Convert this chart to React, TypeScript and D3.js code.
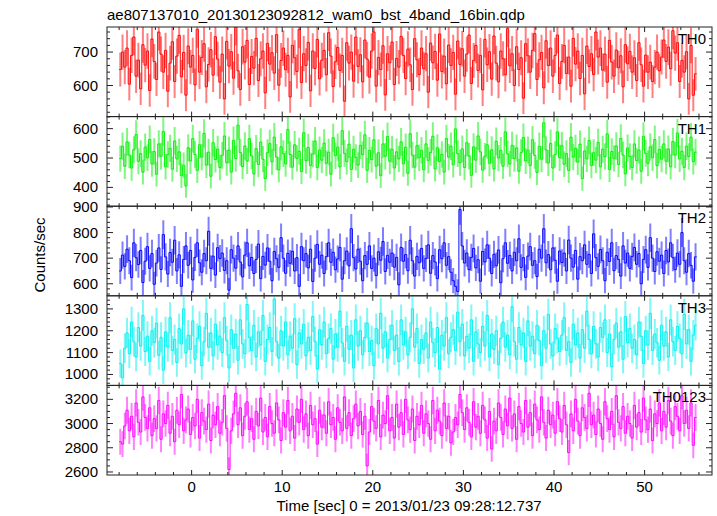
import React from "react";
import * as d3 from "d3";

const TITLE = "ae807137010_20130123092812_wam0_bst_4band_16bin.qdp";
const X_LABEL = "Time [sec] 0 = 2013/01/23 09:28:12.737";
const Y_LABEL = "Counts/sec";
const T_START = -8;
const BIN = 0.25;
const X_TICKS = [0, 10, 20, 30, 40, 50];

const TH0 = [
  648, 700, 655, 712, 604, 690, 745, 628, 676, 590, 722, 661, 703, 585, 739,
  672, 618, 760, 694, 640, 705, 583, 667, 731, 612, 688, 750, 626, 699, 571,
  718, 655, 690, 602, 768, 640, 684, 725, 596, 663, 707, 631, 746, 679, 610,
  694, 560, 732, 658, 701, 622, 775, 644, 588, 716, 670, 735, 603, 687, 652,
  741, 615, 680, 703, 578, 726, 664, 698, 637, 752, 601, 675, 712, 647, 690,
  566, 720, 683, 642, 767, 609, 695, 660, 729, 584, 703, 651, 738, 620, 676,
  705, 632, 758, 688, 597, 671, 714, 645, 690, 553, 728, 667, 700, 613, 745,
  657, 692, 611, 736, 679, 625, 703, 760, 598, 684, 648, 719, 572, 695, 668,
  730, 603, 681, 655, 747, 690, 621, 709, 662, 588, 740, 677, 633, 712, 650,
  695, 580, 727, 668, 702, 616, 754, 642, 688, 605, 721, 660, 699, 574, 733,
  663, 710, 628, 694, 751, 606, 675, 720, 645, 690, 587, 738, 662, 701, 619,
  748, 667, 611, 703, 680, 632, 770, 659, 695, 600, 716, 648, 683, 562, 725,
  689, 640, 705, 755, 618, 677, 699, 593, 734, 660, 712, 628, 690, 751, 606,
  672, 720, 636, 685, 598, 741, 664, 703, 621, 690, 575, 718, 657, 695, 633,
  760, 685, 712, 646, 694, 610, 735, 670, 628, 706, 653, 689, 596, 722, 665,
  702, 640, 683, 615, 728, 662, 598, 691, 640, 670, 612, 655, 700, 644, 685,
  736, 672, 715, 650, 764, 697, 728, 612, 675, 640, 701, 560, 720, 571, 635,
];

const TH1 = [
  498, 540, 472, 555, 510, 466, 528, 580, 489, 515, 452, 537, 501, 563, 480,
  522, 445, 548, 506, 590, 470, 512, 533, 462, 558, 497, 521, 440, 475, 405,
  535, 490, 566, 512, 458, 545, 503, 584, 476, 520, 438, 552, 495, 530, 468,
  509, 575, 484, 527, 452, 560, 498, 612, 519, 471, 541, 490, 566, 507, 446,
  532, 478, 554, 496, 430, 518, 549, 487, 571, 503, 460, 538, 515, 480, 597,
  512, 469, 545, 499, 523, 454, 586, 491, 536, 475, 514, 558, 468, 527, 493,
  551, 482, 520, 445, 569, 508, 537, 470, 593, 516, 488, 547, 461, 530, 502,
  476, 543, 511, 579, 458, 526, 495, 562, 472, 518, 440, 548, 506, 573, 489,
  530, 466, 521, 497, 555, 480, 537, 448, 583, 510, 469, 542, 501, 526, 460,
  548, 492, 519, 574, 463, 535, 488, 512, 452, 566, 503, 540, 477, 599, 515,
  484, 531, 468, 552, 507, 441, 538, 493, 575, 521, 459, 506, 545, 482, 528,
  463, 557, 500, 526, 472, 589, 514, 480, 543, 498, 534, 455, 518, 570, 490,
  527, 474, 562, 509, 451, 540, 496, 620, 528, 483, 550, 466, 512, 589, 501,
  542, 479, 515, 458, 571, 503, 533, 486, 547, 430, 524, 497, 560, 475, 518,
  493, 553, 470, 530, 505, 582, 461, 522, 499, 541, 478, 567, 510, 446, 534,
  505, 468, 548, 491, 527, 455, 574, 516, 482, 538, 501, 563, 474, 529, 496,
  548, 489, 531, 470, 556, 510, 585, 497, 523, 468, 540, 505, 571, 488, 520,
];

const TH2 = [
  650, 712, 668, 735, 690, 624, 760, 702, 675, 730, 605, 688, 745, 660, 718,
  598, 681, 740, 656, 792, 705, 638, 722, 684, 770, 650, 713, 590, 695, 748,
  672, 730, 615, 703, 760, 682, 645, 718, 690, 805, 660, 708, 634, 741, 699,
  720, 652, 690, 575, 733, 700, 661, 748, 685, 627, 712, 760, 670, 703, 640,
  695, 755, 620, 707, 673, 740, 688, 612, 726, 698, 664, 780, 700, 641, 719,
  680, 727, 650, 702, 590, 745, 690, 718, 662, 735, 609, 700, 754, 676, 712,
  640, 706, 760, 684, 723, 655, 697, 742, 618, 690, 728, 670, 815, 702, 658,
  735, 688, 612, 710, 676, 748, 660, 700, 632, 725, 692, 765, 648, 711, 684,
  720, 665, 703, 596, 742, 688, 714, 651, 770, 690, 630, 707, 682, 738, 660,
  699, 752, 641, 710, 685, 620, 733, 698, 760, 672, 706, 645, 612, 590, 570,
  890, 748, 681, 720, 655, 703, 738, 662, 694, 610, 726, 685, 752, 700, 640,
  715, 670, 732, 604, 698, 760, 680, 711, 650, 723, 690, 776, 664, 702, 625,
  708, 745, 672, 690, 628, 735, 700, 815, 682, 714, 655, 740, 692, 610, 728,
  683, 720, 650, 771, 700, 665, 730, 618, 706, 690, 752, 676, 715, 640, 795,
  702, 668, 734, 690, 612, 723, 687, 760, 651, 710, 695, 630, 748, 681, 720,
  660, 707, 742, 676, 718, 600, 695, 733, 664, 780, 700, 648, 725, 688, 712,
  640, 730, 685, 760, 702, 655, 720, 676, 800, 690, 645, 718, 672, 610, 705,
];

const TH3 = [
  1050, 985, 1120, 1190, 1095, 1240, 1150, 1080, 1215, 1130, 1270, 1105, 1175, 1060, 1200,
  1145, 1235, 1088, 1170, 1020, 1195, 1125, 1260, 1110, 1160, 1055, 1210, 1140, 1300, 1098,
  1180, 1115, 1245, 1070, 1165, 1220, 1040, 1150, 1280, 1125, 1190, 1085, 1230, 1135, 1175,
  1100, 1260, 1155, 1030, 1205, 1120, 1185, 1065, 1250, 1140, 1095, 1320, 1170, 1110, 1225,
  1080, 1195, 1135, 1270, 1060, 1160, 1215, 1105, 1345, 1150, 1075, 1200, 1130, 1240, 1090,
  1175, 1120, 1255, 1045, 1190, 1140, 1230, 1085, 1170, 1110, 1265, 1150, 1025, 1205, 1135,
  1240, 1095, 1165, 1210, 1070, 1185, 1125, 1290, 1145, 1060, 1220, 1115, 1180, 1030, 1250,
  1130, 1200, 1090, 1170, 1235, 1105, 1155, 1040, 1210, 1140, 1280, 1120, 1195, 1075, 1160,
  1225, 1110, 1180, 1060, 1250, 1135, 1195, 1090, 1170, 1300, 1125, 1210, 1050, 1160, 1115,
  1190, 1075, 1240, 1145, 1100, 1215, 1025, 1180, 1130, 1260, 1095, 1170, 1205, 1110, 1285,
  1150, 1230, 1085, 1175, 1120, 1250, 1060, 1195, 1140, 1100, 1220, 1130, 1270, 1080, 1185,
  1115, 1200, 1045, 1165, 1240, 1125, 1180, 1090, 1310, 1150, 1070, 1215, 1135, 1190, 1060,
  1245, 1130, 1175, 1095, 1225, 1155, 1040, 1200, 1120, 1275, 1140, 1085, 1210, 1165, 1105,
  1180, 1260, 1110, 1150, 1055, 1230, 1135, 1190, 1075, 1205, 1120, 1290, 1160, 1095, 1220,
  1140, 1080, 1215, 1170, 1250, 1100, 1185, 1035, 1160, 1235, 1125, 1195, 1070, 1265, 1145,
  1210, 1120, 1160, 1090, 1240, 1175, 1050, 1200, 1135, 1280, 1110, 1185, 1145, 1065, 1225,
  1130, 1195, 1080, 1250, 1150, 1110, 1220, 1165, 1095, 1275, 1140, 1205, 1060, 1180, 1225,
];

const TH0123 = [
  2850, 2830, 2980, 3110, 2940, 3060, 2890, 3170, 3010, 2930, 3220, 3050, 2960, 3130, 2900,
  3040, 2960, 3190, 2870, 3080, 3000, 3150, 2920, 3060, 2850, 3110, 2990, 3240, 2940, 3030,
  3120, 2910, 3050, 2980, 3200, 2880, 3090, 3020, 2950, 3160, 2860, 3070, 2990, 3140, 2920,
  3010, 3230, 2960, 2620, 2940, 3080, 3250, 2990, 3130, 2900, 3060, 3180, 2950, 3040, 2870,
  3100, 2980, 3210, 2930, 3050, 2890, 3140, 3000, 2920, 3170, 3030, 2860, 3090, 2970, 3190,
  2940, 3060, 2880, 3120, 3010, 3200, 2950, 3080, 2900, 3150, 2990, 3040, 2830, 3110, 2970,
  3070, 2920, 3180, 2990, 3050, 2870, 3130, 3010, 2940, 3220, 2960, 3090, 2900, 3040, 3160,
  2980, 3100, 2910, 3060, 2650, 2930, 3140, 3020, 2960, 3190, 2890, 3070, 3000, 3230, 2940,
  3050, 2880, 3160, 2970, 3090, 2910, 3200, 3030, 2950, 3120, 2860, 3060, 2990, 3150, 2920,
  3080, 3000, 2870, 3190, 2940, 3110, 3020, 2900, 3170, 2960, 3060, 2840, 2930, 3050, 2990,
  3240, 3090, 2950, 3130, 3010, 2890, 3180, 2970, 3060, 2920, 3150, 3030, 2880, 3100, 2790,
  3020, 2940, 3170, 3050, 2910, 3120, 2980, 3210, 2960, 3080, 2870, 3140, 3000, 2930, 3190,
  2970, 3090, 2900, 3160, 3030, 2950, 3220, 3010, 2880, 3110, 2990, 3070, 2920, 3180, 3040,
  2930, 3150, 2990, 2760, 3080, 2940, 3200, 3020, 2900, 3130, 3050, 2960, 3250, 2990, 3070,
  2910, 3120, 3000, 2870, 3180, 3040, 2950, 3100, 2890, 3230, 3010, 2960, 3140, 2920, 3060,
  3000, 2880, 3150, 2970, 3090, 2930, 3210, 3030, 2950, 3120, 2860, 3080, 3000, 3170, 2940,
  3100, 2970, 3190, 3020, 2900, 3140, 3060, 2940, 3230, 3000, 3110, 2960, 3170, 2820, 3050,
];

const PANEL_NAMES = ["TH0", "TH1", "TH2", "TH3", "TH0123"];
const PANEL_SERIES = [TH0, TH1, TH2, TH3, TH0123];
const PANEL_COLORS = ["#ff0000", "#00f000", "#0000ff", "#00f0f0", "#ff00ff"];
const PANEL_DOMAINS: [number, number][] = [
  [507, 775],
  [336, 641],
  [553, 903],
  [950, 1360],
  [2575, 3315],
];
const PANEL_MAJOR = [[600, 700], [400, 500, 600], [600, 700, 800, 900], [1000, 1100, 1200, 1300], [2600, 2800, 3000, 3200]];
const PANEL_MINOR_STEP = [20, 20, 20, 20, 50];

const W = 717;
const H = 516;
const LEFT = 107;
const RIGHT = 712;
const TOP = 27;
const BOTTOM = 475;
const FONT = "'Liberation Sans', Arial, Helvetica, sans-serif";

export default function App() {
  const x = d3.scaleLinear().domain([-9.34, 57.44]).range([LEFT, RIGHT]);
  const panelH = (BOTTOM - TOP) / 5;
  const xMinor = d3.range(-8, 57, 2);

  return (
    <svg width={W} height={H} style={{ position: "absolute", left: 0, top: 0, background: "#fff" }} fontFamily={FONT}>
      <defs>
        {PANEL_NAMES.map((n, i) => (
          <clipPath id={`clip${i}`} key={n}>
            <rect x={LEFT} y={TOP + i * panelH} width={RIGHT - LEFT} height={panelH} />
          </clipPath>
        ))}
      </defs>
      <text x={LEFT} y={20} fontSize={15} fill="#000">{TITLE}</text>
      {PANEL_NAMES.map((name, i) => {
        const y0 = TOP + i * panelH;
        const y1 = y0 + panelH;
        const y = d3.scaleLinear().domain(PANEL_DOMAINS[i]).range([y1, y0]);
        const data = PANEL_SERIES[i];
        const color = PANEL_COLORS[i];
        const pts: [number, number][] = data.map((v, k) => [T_START + k * BIN, v]);
        pts.push([T_START + data.length * BIN, data[data.length - 1]]);
        const line = d3
          .line<[number, number]>()
          .x((d) => x(d[0]))
          .y((d) => y(d[1]))
          .curve(d3.curveStepAfter);
        const [dmin, dmax] = PANEL_DOMAINS[i];
        const step = PANEL_MINOR_STEP[i];
        const yMinor = d3.range(Math.ceil(dmin / step) * step, dmax, step);
        return (
          <g key={name}>
            <g clipPath={`url(#clip${i})`}>
              {data.map((v, k) => {
                const t = T_START + (k + 0.5) * BIN;
                const e = Math.sqrt(v / BIN);
                return (
                  <line
                    key={k}
                    x1={x(t)}
                    x2={x(t)}
                    y1={y(v - e)}
                    y2={y(v + e)}
                    stroke={color}
                    strokeOpacity={0.5}
                    strokeWidth={2}
                  />
                );
              })}
              <path d={line(pts) || ""} fill="none" stroke={color} strokeOpacity={0.95} strokeWidth={1} />
            </g>
            {yMinor.map((v) => {
              const major = PANEL_MAJOR[i].includes(v);
              const len = major ? 6 : 3;
              return (
                <g key={v} stroke="#222" strokeWidth={1}>
                  <line x1={LEFT} x2={LEFT + len} y1={y(v)} y2={y(v)} />
                  <line x1={RIGHT} x2={RIGHT - len} y1={y(v)} y2={y(v)} />
                </g>
              );
            })}
            {PANEL_MAJOR[i].map((v) => (
              <text key={v} x={98} y={y(v) + 5} fontSize={15} textAnchor="end" fill="#000">
                {v}
              </text>
            ))}
            {xMinor.map((t) => {
              const major = t % 10 === 0;
              const len = major ? 5 : 3;
              return (
                <g key={t} stroke="#222" strokeWidth={1}>
                  <line x1={x(t)} x2={x(t)} y1={y0} y2={y0 + len} />
                  <line x1={x(t)} x2={x(t)} y1={y1} y2={y1 - len} />
                </g>
              );
            })}
            <text x={706} y={y0 + 17} fontSize={15} textAnchor="end" fill="#000">
              {name}
            </text>
            <rect x={LEFT} y={y0} width={RIGHT - LEFT} height={panelH} fill="none" stroke="#222" strokeWidth={1} />
          </g>
        );
      })}
      {X_TICKS.map((t) => (
        <text key={t} x={x(t)} y={492} fontSize={15} textAnchor="middle" fill="#000">
          {t}
        </text>
      ))}
      <text x={x(24)} y={511} fontSize={15} textAnchor="middle" fill="#000">
        {X_LABEL}
      </text>
      <text transform={`translate(45,255) rotate(-90)`} fontSize={15} textAnchor="middle" fill="#000">
        {Y_LABEL}
      </text>
    </svg>
  );
}
